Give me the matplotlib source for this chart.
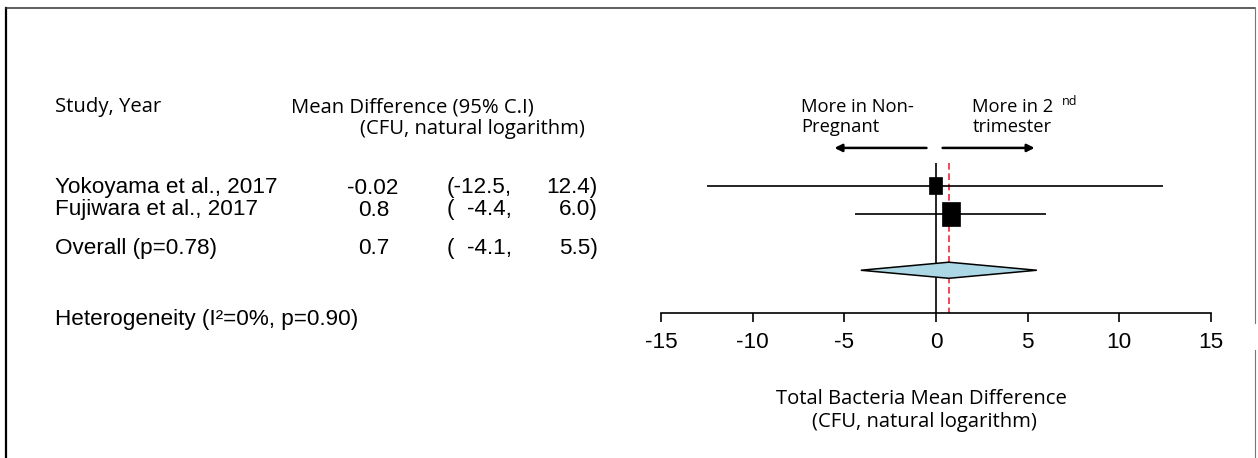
import matplotlib
matplotlib.use("Agg")
import matplotlib.pyplot as plt
from matplotlib.patches import Rectangle, Polygon
from matplotlib.lines import Line2D

# ---- data ---------------------------------------------------------------
studies = ["Yokoyama et al., 2017", "Fujiwara et al., 2017"]
est = [-0.02, 0.8]
ci_lo = [-12.5, -4.4]
ci_hi = [12.4, 6.0]
est_labels = ["-0.02", "0.8"]
lo_labels = ["(-12.5,", "(  -4.4,"]
hi_labels = ["12.4)", "6.0)"]

overall_label = "Overall (p=0.78)"
overall_est = 0.7
overall_lo = -4.1
overall_hi = 5.5
overall_texts = ["0.7", "(  -4.1,", "5.5)"]
heterogeneity = "Heterogeneity (I\u00b2=0%, p=0.90)"

x_ticks = [-15, -10, -5, 0, 5, 10, 15]

# ---- figure -------------------------------------------------------------
W, H = 1258, 458
fig = plt.figure(figsize=(W / 100, H / 100), dpi=100)
fig.patch.set_facecolor("white")

ARIAL = "Liberation Sans"
HUMAN = "Open Sans"
TS = 16.2   # table / tick font size
HS = 14.6   # heading font size


def fx(px):
    return px / W


def fy(py):
    return 1 - py / H


def ftext(x, y, s, size=TS, family=ARIAL, ha="left", va="baseline"):
    fig.text(fx(x), fy(y), s, fontsize=size, family=family, ha=ha, va=va,
             color="black")


# frame around the panel
fig.add_artist(Line2D([fx(6.5), fx(6.5)], [fy(7.5), fy(H)], color="black", lw=1.6))
fig.add_artist(Line2D([fx(6.5), fx(1255)], [fy(7.5), fy(7.5)], color="#333333", lw=1.1))
fig.add_artist(Line2D([fx(1255), fx(1255)], [fy(7.5), fy(323)], color="#777777", lw=0.8))
fig.add_artist(Line2D([fx(1255), fx(1255)], [fy(350), fy(H)], color="#777777", lw=0.8))

# ---- left table ---------------------------------------------------------
ftext(55, 112, "Study, Year", size=HS, family=HUMAN)
ftext(291, 112, "Mean Difference (95% C.I)", size=HS, family=HUMAN)
ftext(360, 134, "(CFU, natural logarithm)", size=HS, family=HUMAN)

row_base = [193.5, 215.5]
for i, name in enumerate(studies):
    y = row_base[i]
    ftext(55, y, name)
    ftext(347 if est_labels[i].startswith("-") else 358, y, est_labels[i])
    ftext(447, y, lo_labels[i])
    ftext(598, y, hi_labels[i], ha="right")

ftext(55, 254, overall_label)
ftext(358, 254, overall_texts[0])
ftext(447, 254, overall_texts[1])
ftext(598, 254, overall_texts[2], ha="right")

ftext(55, 325, heterogeneity)

# ---- forest panel -------------------------------------------------------
ROW_PX = 28.25
ROW0_PX = 157.25          # pixel row of r = 0
X0, X1 = 661, 1211        # pixel extent of -15 .. 15
r_top, r_bot = -2.4, 5.5
ax = fig.add_axes([fx(X0), fy(ROW0_PX + r_bot * ROW_PX),
                   (X1 - X0) / W, (r_bot - r_top) * ROW_PX / H])
ax.set_xlim(-15, 15)
ax.set_ylim(r_bot, r_top)
ax.patch.set_alpha(0)
for s in ("left", "right", "top"):
    ax.spines[s].set_visible(False)
ax.spines["bottom"].set_linewidth(1.2)
ax.set_yticks([])
ax.set_xticks(x_ticks)
ax.set_xticklabels([str(t) for t in x_ticks])
ax.tick_params(axis="x", direction="out", length=6.5, width=1.2, pad=7.5,
               labelsize=TS)
for lab in ax.get_xticklabels():
    lab.set_family(ARIAL)

rows = [1, 2]
overall_row = 4
line_top = 0.2

ax.vlines(0, line_top, r_bot, colors="black", lw=1.2, zorder=2)
ax.vlines(overall_est, line_top, r_bot, colors="#f2283c", lw=1.2,
          linestyles=(0, (4, 2.2)), zorder=2)

ax.hlines(rows, ci_lo, ci_hi, colors="black", lw=1.2, zorder=3)

# study boxes (width in x units, height in rows)
box_w = [0.69, 1.0]
box_h = [0.57, 0.85]
for r, e, bw, bh in zip(rows, est, box_w, box_h):
    ax.add_patch(Rectangle((e - bw / 2, r - bh / 2), bw, bh,
                           facecolor="black", edgecolor="black", lw=0.5,
                           zorder=4))

dh = 0.285
ax.add_patch(Polygon([(overall_lo, overall_row), (overall_est, overall_row - dh),
                      (overall_hi, overall_row), (overall_est, overall_row + dh)],
                     closed=True, facecolor="#acd8e6", edgecolor="black",
                     lw=1.1, zorder=4))

# direction arrows and captions
arrow_r = -0.33
arrow_kw = dict(arrowstyle="-|>", color="black", lw=1.8, mutation_scale=11,
                shrinkA=0, shrinkB=0)
ax.annotate("", xy=(-5.54, arrow_r), xytext=(-0.52, arrow_r), arrowprops=arrow_kw)
ax.annotate("", xy=(5.38, arrow_r), xytext=(0.36, arrow_r), arrowprops=arrow_kw)

ftext(801, 112, "More in Non-", size=13.2, family=HUMAN)
ftext(801, 132, "Pregnant", size=13.2, family=HUMAN)
ftext(972, 112, "More in 2", size=13.2, family=HUMAN)
ftext(1062, 105, "nd", size=9, family=HUMAN)
ftext(973, 132, "trimester", size=13.2, family=HUMAN)

# axis title
ftext(921, 404, "Total Bacteria Mean Difference", size=HS, family=HUMAN, ha="center")
ftext(924, 427, "(CFU, natural logarithm)", size=HS, family=HUMAN, ha="center")

fig.savefig("out.png", dpi=100)
